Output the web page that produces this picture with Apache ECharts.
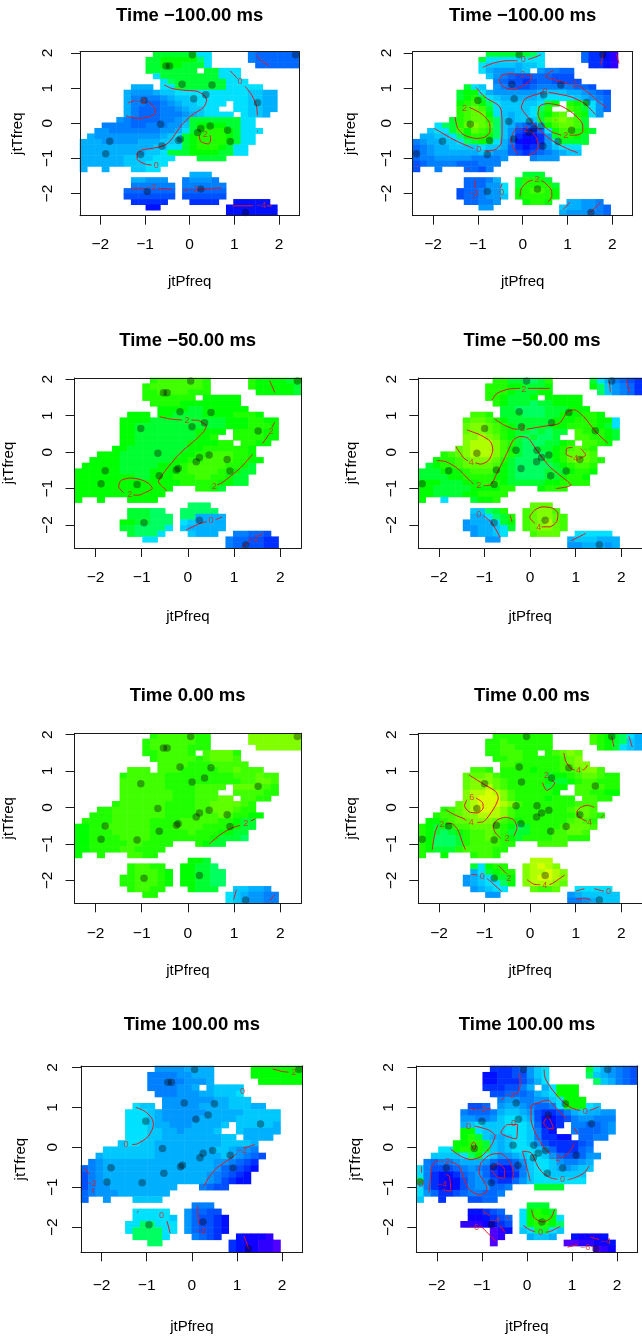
<!DOCTYPE html>
<html><head><meta charset="utf-8">
<style>html,body{margin:0;padding:0;background:#fff;overflow:hidden}#c{width:642px;height:1341px}</style>
<script src="https://cdn.jsdelivr.net/npm/echarts@6/dist/echarts.min.js"></script>
</head><body><div id="c"></div>
<script>
const titles=["Time −100.00 ms","Time −100.00 ms","Time −50.00 ms","Time −50.00 ms","Time 0.00 ms","Time 0.00 ms","Time 100.00 ms","Time 100.00 ms"];
const tickValues=[-2,-1,0,1,2];
const xRange=[-2.455,2.455];
const yRange=[-2.63,2.035];
const levelChars="abcdefghijklmnopqrstuv";
const levelValues=[-7,-6,-5,-4,-3.5,-3,-2.5,-2,-1.5,-1,-0.5,0,0.5,1,1.5,2,2.5,3,3.5,4,5,6];
const levelColors=["#5000ff","#3000ff","#1000ff","#0010ff","#0030ff","#0050ff","#0068ff","#0080ff","#0098ff","#00b0ff","#00c8ff","#00e0ff","#00f0e0","#00ff60","#00ff30","#00ff00","#20ff00","#40ff00","#60ff00","#80ff00","#b0ff00","#d8ff00"];
// cell spans per row (top row first): first and last column of each block
const spans=[[[10,17],[23,29]],[[9,17],[23,29]],[[9,17],[24,29]],[[9,15],[17,21]],[[10,21]],[[11,22]],[[7,9],[11,24]],[[6,26]],[[6,26]],[[6,19],[21,26]],[[6,18],[21,26]],[[6,20],[22,25]],[[5,23]],[[3,23]],[[2,24]],[[1,23]],[[0,23]],[[0,22]],[[0,22]],[[0,12],[16,19]],[[0,11]],[[0,0],[3,3],[7,10]],[[15,17]],[[7,11],[14,18]],[[7,12],[14,19]],[[6,12],[14,19]],[[6,12],[14,19]],[[7,11],[15,18],[21,25]],[[9,10],[20,26]],[[20,26]]];
// cell levels, one letter per cell, blocks split by a space
const cells1=["ooooooll hgggggg","oopppppnl hgggggg","oopppoool gggggg","ooooooo oolll","loooooooolll","lnooooooolll","jjj llooooooolllll","jiiijkkllllllllllkkjj","jhhhhijkkllllllllkkjj","jhhgghijkkllll llkkjj","jhggghhijkkll llkkjj","jhggghhhijkllll lkkj","ihgggghhijoooooooll","hhhhgghhhiikoppppooll","iihhhhhhhiijlopqqqpolll","jiiiiiiiiijklopqqqqpoll","jjjiiiiijjjkklopqqqqpoll","jjjjjjjjjjkkllopqqqpol","jjjjjjjjjkkloooppppool","jjjjjjkkkklll oooo","jjjjjjkkklll","j j kkll","jjj","jjiii hiiih","hhhhhh hhhhhh","ggggggg gggggg","fffffff ffffff","eeeee eeee ddddd","dd ddddddd","ddddddd"];
const cells2=["oooooonl geedb..","ollllllll geedb..","lkkkkjkkl eedb..","ljiiijk ihhgg","kihgffgggfff","hgffefggffff","olk ihgffghhhhhggf","oppljiiiiiijkkkjjihgf","opqolkjjjjjkllllkjihg","pqrpnlkkkkklop qpolig","qrsrolkkkklnq rqolig","qrssplkjkkloprs qpli","oqrssqnkjkkkorstsro","lnoqstsrnkjhgglprssro","kllorpsrqnkifeeglprrqpo","jjkklnpqqpnkieddeioqqpo","hijjkklnopoljhdcdeiloooo","ghijjkkkklkkjgedefiklll","ghijjjjjjkjiigfefghijkk","ghhiiiiihhhhi hiii","fghhhhggghhh","f h ggfh","ooo","ggghj oqqpo","gggiil oqqqqo","fgghiil pqrrqp","fgghiik pqqqqp","gghhi pqqp jjiih","ii kjjiihg","jiiihhg"];
const cells3=["qrrrrrrq qppppop","qrrrrrrrq qpppppo","qqrrrrqqq pppppo","qqqqqqq ppppp","qqqqpppppppp","ppppoopppppp","ppp ppooooppppqqqp","ppppoooooooooopppqqpp","ppoooooooooooopppqqqp","ppoooooooopppp qqqqpp","ppooooooooppq qqqqpp","ppoooooooppppqq qqpp","ppooooooooppqqqqqqp","pppooooooooppqqrrrqqp","ppppoooooooppqqrrrrqqpp","pppppooooopppqrrrrrqqpo","ppppppooooppppqrrrrqqpoo","ppppppppoopppqqqrrqqpoo","ppppppppppppppqqqqqppoo","ppppppppppppp qqpo","pppppppppppp","p p pppp","nnn","ooonn nnnnn","ooonnn nnjjjj","ppoonnn lkjjjj","oonnnnl kjjjjj","onnnl kjjj hhggf","ll hggffee","hggffee"];
const cells4=["qqoonnoq oljhgfe","qqqppooop pnkihge","qqqpooopp nkihge","qqpooop ppppp","qpooonooppp","oonnnnoooppp","rrq ooonnnoopppqqp","rssrqpoooooopppqqqppl","sttsrqpoooooppqqqqpol","sttsrqpoononoo rqqqpo","ttutsqpononno rrqqpo","tuuutrqonnnoopq rrqp","stuuutrponnoopqrsrq","qrstuuutrqonnnopqsssr","pqqrstttsqonnnnopqstsrq","opqqrssssrponnnnnopqrrq","ooopppqrrrqponnnnooopqqp","ooooppqqqqpponnnnoopqqp","pppoooppqqqpoooooppqqq","ppoooooppppqq pqqq","ppooooppqqqq","p l oppq","sss","kknoq rsttr","jjlnoq rsttsr","ijjjlop rstusr","iijjklo rsttsr","ijjkl rsss lllll","ii jkkkjjj","iijjjij"];
const cells5=["qrrrrrqq ttttttt","qrrrrrrqq ttttttt","qrrrrrqqq tttttt","qqrrrrq rsssq","qrrrrrqrsssr","rrrrqqqrrrrr","rrr rrrqqqqqrrsrrr","qrrrrrqqqqqqqqqrrrsrr","rrrrrrqqqqqqqqqqrrssr","rrrrrrqqqqrrrr sssrrq","rrrrrrrqqqrrr rrrrqq","rrrrrrrqqqrrrss rrqq","qrrrrrrqqqqrrssssrq","qqrrrrrrrqqqqrrsssrqq","qqqrrrrrrrqqqqrrrsrqqpp","qqqqrrrrrqqqqrrrrrqqpoo","ppqqrrrrrrqqqrrrrqqqqpoo","ppqqqrrrrrqqqqqrqqqppoo","ppqqqqrrrrqqqqqqqqpooon","ppqqqqqrrqqqq qpoo","ppqqqqrrqqqq","p q rrqq","ppo","qrrqq ppoon","qrrrqp ppoonn","qqrrrqp ppoonn","qqrrrqp ppoonn","qrrqq pooo kkjji","qq lkjiihh","lkjiihh"];
const cells6=["qqqqqqqq rqponlj","qqrqqqqqq rqponkj","qqrrqqqqq qpolkj","qqrrrqq qrsts","qqrrqqqqqrst","rrqqqqqqrstt","rrq qqqqpqqqrrsttr","ssstrqqqqqqoppqrssrqq","stttsrqqqqqpoopqrrqqq","sttusrqqqqqopp rrrrqq","tuuvutrqqqqqp rrqqpp","tuvvvtrqqqqpqqq rrqq","stuvvvutrqqqqqqqrrr","qrstuvvutrqqqqqqqrssr","qrrsttuuutrqqqqqqqqrsrq","ppqrsstttsrqpqqqqqqrsrq","qpopqrrsssrqpnoqqqqrsssr","qponopqrrsrqoooqqqrrssr","qpnnnoqrrsrqpoqqqqrrqqq","qpnnnoqrrrrqq rrrr","qpoooqrrrrqq","q p qrrq","uuu","olpqq tuvut","jlopqq tuuvut","ijkloop tuvvut","ijkllnp tuuuts","ijkll srrs lllll","ii ijkkkkk","hhijkkk"];
const cells7=["iiiijjjj ppppppp","hhhhiijjj ppppppp","hhhhhiiij pppppp","hhhhiij jkkkk","hhhiiijjkkkl","iiiiiiijjkkk","lkk iiiiijjjjkkkjj","lllkjiiiiiijjjjjkkkkk","lllkjiiiiijjjjjkkkkkk","lllkjjiiijjjjk kkkkkj","lllkkjjijjjjk kjjjjj","lllkkjjjjjjjjkk jjjj","kllkkjjjjjjjjjkkkkj","kkkkkkkjjjjjjjjkkjiih","jkkkkkkkjjjjjjjjjkjihgf","hijjjjjjjjjjjjjjjiihgfe","ghijjjjjjjjjjjjjjjiggfed","fhijjjjjjjjjjjjjjihgfed","fhijjjjjjjjjjjjjjihfedd","fhiijjjjjjjjj hgff","ghiiijjjjjjj","g i kkkk","hhh","lllll iggff","lllllk igffed","llnnlll igffed","lnnnnll igffed","nnnnl hgfe dcccb","nn edccbba","edccbba"];
const cells8=["eeefgikl oljihgf","ddeeffikl nkjihgf","ddeeefhjl nkjhgf","eeeffhj jlppp","ffggghjklppp","hiihhiiklppp","ffg ijjihgghlppplk","hggghjkkjifeefhjkjjii","iihhikllkjfddefhiihhh","jklkkklllkgdde hhgghi","pplkkklllkhed hggghi","pqokjjkllkheedd gghh","ppqqokjkllkifeeeefg","llpqqqokjklllkjgeeegh","kkkklnplkiijkllkigffgii","hghhijjjigffgikllkihhij","lhfffghihgeddfhkllkjijkk","lheddeghigeddehkllkkkkk","nhedcdfhihfeegiklllllll","lhedcdfhiiggh oooo","ligeefghhggh","k e ffgg","ooo","ddefg lpqpo","ccdefg lpqqpl","bbbcdef lpqqpn","....abd kloolk","...ab jkkj dcccd",".a aabbccd","....abc"];
// recording sites
const sitesX_left=[0.06,-0.53,-0.45,-0.17,0.5,0.09,0.36,-1.02,1.52,-0.65,0.25,0.46,0.18,0.85,0.91,-0.25,-0.21,-0.62,-1.79,-1.88,-1.1,-0.95,0.25,1.25,2.37];
const sitesY_left=[1.95,1.63,1.63,1.11,1.09,0.7,0.81,0.65,0.58,-0.03,-0.15,-0.08,-0.26,-0.2,-0.52,-0.49,-0.45,-0.65,-0.51,-0.87,-0.89,-1.94,-1.87,-2.54,1.95];
const sitesX_right=[-0.08,-0.24,0.85,-0.19,0.47,-1,1.43,-1.17,-0.31,0.15,0.25,0.41,0.14,1.09,0.79,-0.74,-0.2,0.45,-1.79,-2.37,-0.79,-0.79,0.33,1.52,1.79];
const sitesY_right=[1.95,1.11,1.09,0.7,0.81,0.65,0.59,-0.03,0.05,0.05,-0.15,-0.08,-0.26,-0.2,-0.52,-0.49,-0.45,-0.65,-0.51,-0.87,-0.89,-1.94,-1.87,-2.54,1.95];
// contour lines: x,y,x,y...
const lines1=[[-.57,1.09,-.4,.99,-.14,.94,.16,.91,.32,.8,.38,.66,.31,.45,.05,.23,-.18,-.05,-.36,-.38,-.51,-.59,-.73,-.69,-1.07,-.76,-1.18,-.87,-1.17,-1.03,-1,-1.16,-.85,-1.19],[-1.38,.58,-1.22,.65],[-.92,.61,-.79,.45,-.76,.31,-.85,.21,-1.11,.14,-1.29,.16,-1.42,.21],[.91,1.49,1.07,1.27],[1.24,1.05,1.39,.8,1.49,.52,1.52,.21],[1.52,-.21,1.52,-.25],[.21,-.34,.25,-.52,.42,-.59,.47,-.48,.46,-.34],[1.48,1.95,1.61,1.77,1.77,1.65],[-1.31,-1.85,-1,-1.85],[-.72,-1.85,-.4,-1.87],[-.14,-1.9,-.03,-1.9],[.2,-1.87,.72,-1.84],[.96,-2.35,1.43,-2.35],[1.72,-2.35,1.84,-2.35]];
const labels1=[[-.75,-1.2,"0"],[-1.09,.63,"−2"],[1.13,1.18,"0"],[.35,-.32,"2"],[-.86,-1.83,"−2"],[.09,-1.88,"−2"],[1.6,-2.35,"−4"]];
const lines2=[[-.89,1.59,-.63,1.72,-.33,1.78,-.11,1.78],[.12,1.82,.19,1.84,.41,1.95],[-.14,1.38,-.26,1.41,-.45,1.37,-.52,1.24,-.5,1.13,-.41,1.02,-.22,.96,-.03,1.04,.15,1.2,.21,1.35,.08,1.36],[.69,1.51,.5,1.34,.71,1.24,1.01,1.13],[1.2,1.08,1.27,1.05,1.53,.8,1.72,.58,1.88,.45],[1.62,.25,1.38,.56,1.08,.75,.71,.85,.58,.88],[.42,.87,.34,.83,.06,.7,-.03,.45,.08,.23,.34,-.15,.64,-.48,.97,-.71,1.23,-.84],[.34,.23,.38,.49,.56,.56,.86,.49,1.12,.28,1.34,-.05,1.34,-.24,1.19,-.34,1.05,-.34],[.86,-.34,.64,-.24,.45,-.05,.34,.23],[.72,.09,.74,.09],[-1.19,.45,-.93,.28,-.74,0,-.73,-.24,-.85,-.4,-1.04,-.43,-1.3,-.34,-1.45,-.15,-1.51,.18],[-1.04,1.02,-.85,.75,-.55,.52,-.48,.37,-.46,-.1,-.48,-.57,-.63,-.76,-.85,-.78],[-1.1,-.72,-1.19,-.67,-1.52,-.48,-1.97,-.15],[-.26,-.52,-.22,-.29,-.11,-.1],[.15,-.19,.3,-.4,.35,-.67,.26,-.84,.12,-.9],[-.26,-.52,-.18,-.76,-.11,-.87],[-1.06,-1.61,-1.06,-1.85],[-1.09,-2.1,-1.09,-2.16],[-.46,-1.73,-.5,-1.85],[-.5,-2.1,-.5,-2.18],[-.06,-2.08,-.03,-1.85,.12,-1.66,.22,-1.62],[.42,-1.63,.49,-1.69,.64,-1.9,.65,-2.08,.56,-2.25],[.9,-2.46,1.06,-2.24],[1.49,-2.56,1.74,-2.25],[1.75,1.65,1.79,1.98],[2.15,1.7,2.09,1.98],[-2.37,-1.19,-2.34,-1.23],[-1.24,-1.28,-1.2,-1.31]];
const labels2=[[.01,1.8,"0"],[-.06,1.38,"−2"],[1.1,1.11,"−2"],[.5,.89,"0"],[.96,-.34,"2"],[-1.3,.43,"2"],[-.98,-.76,"0"],[.02,-.17,"−2"],[-1.09,-1.99,"−2"],[-.47,-1.97,"0"],[.32,-1.61,"2"]];
const lines3=[[-.61,.97,-.38,.91,-.13,.88],[.08,.88,.23,.87,.34,.79,.4,.73,.34,.56,.12,.29,-.17,-.03,-.42,-.4,-.53,-.58,-.64,-.81,-.55,-.95,-.45,-1.07],[-1.18,-1.18,-1.07,-1.18,-.96,-1.13,-.77,-.99,-.85,-.86,-1.03,-.75,-1.25,-.71,-1.45,-.78,-1.5,-.95,-1.39,-1.11],[1.4,-.06,1.13,-.44,.74,-.84,.63,-.9],[1.77,1.96,1.88,1.64],[1.88,.82,1.82,.68],[1.76,.5,1.62,.24],[-.04,-2.14,.27,-1.95,.41,-1.91],[.6,-1.85,.74,-1.78],[1.17,-2.61,1.35,-2.43],[1.5,-2.32,1.62,-2.23]];
const labels3=[[-.02,.88,"2"],[-1.26,-1.15,"2"],[.57,-.95,"2"],[1.8,.58,"2"],[.5,-1.87,"0"],[1.42,-2.38,"−2"]];
const lines4=[[-.84,1.43,-.73,1.61,-.48,1.73,-.22,1.75],[-.05,1.75,.06,1.75,.43,1.75],[-.78,.91,-.58,.75,-.37,.64,-.26,.63],[-.08,.63,.35,.72,.64,.79,.82,1.11,.97,1.16,1.18,.97,1.44,.56,1.71,.24],[-1.39,.61,-1.09,.47,-.87,.29,-.82,.06,-.91,-.22,-1.09,-.33,-1.2,-.29],[-1.36,-.24,-1.45,-.17,-1.63,.15],[-2.05,-.23,-1.85,-.26,-1.6,-.44,-1.34,-.76,-1.24,-.88],[-1.02,-.92,-.87,-.9,-.73,-.58,-.51,-.03,-.37,.33,-.22,.43,-.04,.38,.14,.06,.43,-.4,.79,-.77,.9,-.9,.82,-.95,.57,-1],[.93,.13,.8,.1,.79,-.05,.93,-.14],[1.08,-.17,1.22,-.08,1.11,.1],[1.74,1.94,1.76,1.64],[2.12,1.98,2.17,1.64],[-1.02,-1.75,-.84,-1.94,-.66,-2.34],[-.44,-1.73,-.4,-1.91],[.25,-2.05,.43,-2.05,.58,-1.91,.61,-1.68,.5,-1.54,.28,-1.5,.1,-1.59,-.01,-1.79,.1,-1.95],[.9,-2.43,1.22,-2.23]];
const labels4=[[-.14,1.73,"2"],[-.17,.64,"2"],[-1.29,-.28,"4"],[-1.13,-.92,"2"],[1,-.17,"4"],[-1.13,-1.71,"0"],[.19,-2.07,"4"]];
const lines5=[[.46,-1,.7,-.75,.92,-.58,1.13,-.49],[1.36,-.37,1.46,-.31],[1.05,-2.26,.99,-2.53],[1.88,-2.39,1.78,-2.55]];
const labels5=[[1.25,-.43,"2"]];
const lines6=[[-1.19,.26,-1.05,.14,-1.03,-.01,-1.16,-.15,-1.34,-.12,-1.44,.05,-1.39,.21],[-1.35,.9,-1.01,.63,-.76,.44,-.7,.26,-.79,-.01,-1.01,-.38,-1.16,-.41],[-1.4,-.37,-1.44,-.32,-1.66,-.2,-1.86,-.06],[-2.15,-1.16,-2.09,-.7,-2.02,-.47],[-1.85,-.45,-1.73,-.44,-1.59,-.61,-1.48,-.98,-1.42,-1.16],[-.65,-.84,-.76,-.7,-.81,-.52,-.72,-.34,-.54,-.27,-.36,-.34,-.29,-.56,-.36,-.79],[.27,.68,.36,.47,.47,.54,.54,.68,.48,.73],[.74,1.5,.78,1.27,.9,1.06,.98,1.03],[1.15,1.03,1.19,1.04,1.26,1.16],[1.05,-.24,1.03,-.11,1.12,.01,1.26,.06,1.41,0],[1.05,-.24,1.16,-.33,1.24,-.38],[1.62,-.2,1.55,-.29],[-.69,-1.6,-.52,-1.82],[-1.29,-1.84,-1.16,-1.85],[-.95,-1.95,-.87,-2.03,-.63,-2.3],[-.07,-1.98,.07,-2.1,.22,-2.12],[.42,-2.12,.51,-2.07,.76,-1.85],[1.79,1.95,1.84,1.66],[2.17,1.95,2.24,1.66],[1.01,-2.29,1.19,-2.23],[1.41,-2.23,1.62,-2.3],[1.01,-2.53,1.19,-2.49,1.34,-2.55]];
const labels6=[[-1.28,.26,"6"],[-1.29,-.41,"4"],[-1.94,-.47,"2"],[-.51,-.86,"2"],[.36,.87,"2"],[1.06,1.01,"4"],[1.3,-.41,"4"],[-.47,-1.95,"2"],[-1.05,-1.9,"0"],[.32,-2.13,"4"],[1.72,-2.32,"0"]];
const lines7=[[-1.24,1,-1.04,.9,-.89,.73,-.85,.57,-.96,.28,-1.22,.08,-1.32,.07],[1.4,.07,1.15,-.02],[.99,-.16,.92,-.23,.55,-.52,.37,-.77,.26,-.98],[1.79,1.96,2,1.9,2.14,1.88],[-2.37,-.52,-2.27,-.68],[-2.19,-1.03,-2.18,-1.14],[-.55,-1.85,-.48,-2.15],[-1.22,-1.63,-1.18,-1.6],[.13,-1.46,.14,-1.81,.16,-1.94],[1.16,-2.23,1.26,-2.55]];
const labels7=[[-1.46,.08,"0"],[1.11,-.08,"−2"],[2.26,1.88,"2"],[1.12,1.39,"0"],[-2.22,-.92,"−2"],[-.67,-1.71,"0"],[.2,-2.1,"−2"]];
const lines8=[[-.16,1.86,-.15,1.57,-.21,1.36,-.28,1.33],[-.5,1.24,-.58,1.18],[.38,1.95,.4,1.74,.53,1.49,.75,1.19,.98,.99,1.18,.92],[1.4,.93,1.6,1.01],[-1.28,.99,-1.13,.93],[-.9,.95,-.8,.97],[.87,.71,.61,1.03,.46,1.18,.24,1.11,.09,1.03,.09,.69,.2,.32,.38,-.02,.53,-.18],[.74,-.27,.83,-.23,.98,-.06,1.05,.11],[1.05,.48,1.12,.34],[.46,.78,.37,.61,.46,.48,.59,.46,.53,.65,.46,.78],[-.21,.57,-.43,.57,-.58,.36,-.24,.21,-.21,.57],[-1.16,.53,-.87,.44,-.71,.29,-.8,.03,-1.02,-.23,-1.24,-.31,-1.46,-.23,-1.7,-.04],[-1.24,.07,-1.18,-.06,-1.13,.03,-1.18,.13,-1.24,.07],[-2.17,-1.14,-2.11,-.48,-2.02,-.35,-1.95,-.35],[-1.7,-.36,-1.65,-.38,-1.5,-.48,-1.39,-.81,-1.28,-1.06,-1.06,-1.19,-.89,-1.1,-.91,-.94,-1.06,-.64,-1.02,-.39,-.8,-.18,-.58,-.16,-.39,-.35,-.3,-.64,-.33,-.81],[-.8,-.52,-.65,-.41,-.5,-.56,-.5,-.77,-.65,-.75,-.8,-.56],[-1.8,-.68,-1.72,-.73,-1.69,-1.1,-1.87,-1.06],[-.1,-.1,.01,-.56,.07,-.85],[-.1,-.1,.09,-.14,.24,-.48,.35,-.64,.53,-.77,.68,-.8],[.9,-.81,1.05,-.77,1.27,-.64,1.38,-.46],[-2.34,-.48,-2.34,-.64],[-.98,-1.6,-.82,-1.72],[-.61,-1.94,-.49,-2.13],[-.44,-1.73,-.41,-1.81],[-1.08,-2,-1.02,-2,-.87,-2.15,-.7,-2.35],[.1,-1.56,.16,-1.77,.35,-1.87,.53,-1.77,.61,-1.56],[-.08,-1.96,.05,-2.06,.18,-2.12],[.42,-2.13,.53,-2.1,.74,-1.98],[1.4,-2.25,1.6,-2.31],[.9,-2.5,1.12,-2.44],[1.42,-2.49,1.46,-2.48]];
const labels8=[[-.38,1.29,"−2"],[1.29,.9,"0"],[-1.02,.94,"−2"],[.63,-.27,"−2"],[-.3,.6,"0"],[-1.3,.53,"0"],[-1.82,-.35,"−2"],[-1.88,-.93,"−4"],[.79,-.81,"0"],[-2.35,-.93,"0"],[-.72,-1.83,"−4"],[-1.18,-2,"−6"],[.3,-2.13,"0"],[1.75,-2.36,"−4"],[1.29,-2.5,"−6"]];

const cellSets=[cells1,cells2,cells3,cells4,cells5,cells6,cells7,cells8];
const lineSets=[lines1,lines2,lines3,lines4,lines5,lines6,lines7,lines8];
const labelSets=[labels1,labels2,labels3,labels4,labels5,labels6,labels7,labels8];
// panel boxes on the page: left, top, width, height, tick-label margin x/y, name gap x/y, title centre y
const panels=[[80,51.7,219.3,164,21,24,66,62,15],[412.7,51.7,220,164,21,18,66,62,15],[74,378,227.3,170,22,19,69,66,340],[418.3,378,227.3,170,22,19,69,66,340],[74,733.3,227.3,170,22,19,68,66,695],[418.3,733.3,227.3,170,22,19,68,66,695],[81,1066,221.7,186.3,25,20,75,60,1024],[416.3,1066,221.4,186.3,25,20,75,60,1024]];

function decode(rows){
  const out=[];
  rows.forEach((row,r)=>{
    const parts=row.split(" ");
    spans[r].forEach((sp,i)=>{
      const s=parts[i]||parts[parts.length-1];
      for(let c=sp[0];c<=sp[1];c++){
        const ch=s[Math.min(c-sp[0],s.length-1)];
        if(ch==='.')continue;
        out.push([c,29-r,levelValues[levelChars.indexOf(ch)]]);
      }
    });
  });
  return out;
}
function pairs(set){
  const out=[];
  set.forEach(l=>{
    for(let i=0;i<l.length;i+=2)out.push([l[i],l[i+1]]);
    out.push(['-','-']);
  });
  return out;
}
const cats=Array.from({length:30},(_,i)=>String(i));
const fam='"Liberation Sans",Helvetica,Arial,sans-serif';
const fmt=v=>String(v).replace('-','−');
const option={animation:false,backgroundColor:'#fff',title:[],grid:[],xAxis:[],yAxis:[],series:[],
 visualMap:{type:'piecewise',show:false,seriesIndex:[],dimension:2,
   pieces:levelValues.map((v,i)=>({value:v,color:levelColors[i]}))}};
panels.forEach((p,g)=>{
  const [left,top,width,height,mx,my,nx,ny,ty]=p;
  option.title.push({text:titles[g],left:left+width/2,top:ty-8.5,padding:0,textAlign:'center',
    textStyle:{fontFamily:fam,fontSize:18.5,fontWeight:'bold',color:'#000'}});
  option.grid.push({left,top,width,height,containLabel:false});
  const ln={show:true,onZero:false,lineStyle:{color:'#1a1a1a',width:1}};
  option.xAxis.push({type:'value',gridIndex:g,min:xRange[0],max:xRange[1],position:'bottom',z:5,
    axisLine:ln,splitLine:{show:false},name:'jtPfreq',nameLocation:'middle',nameGap:nx,
    nameTextStyle:{fontFamily:fam,fontSize:15,color:'#000',verticalAlign:'middle'},
    axisTick:{show:true,length:9,customValues:tickValues,lineStyle:{color:'#1a1a1a'}},
    axisLabel:{show:true,customValues:tickValues,margin:mx,formatter:fmt,fontFamily:fam,fontSize:15.5,color:'#000'}});
  option.xAxis.push({type:'category',gridIndex:g,data:cats,position:'top',boundaryGap:true,z:5,
    axisLine:ln,axisTick:{show:false},axisLabel:{show:false},splitLine:{show:false}});
  option.yAxis.push({type:'value',gridIndex:g,min:yRange[0],max:yRange[1],position:'left',z:5,
    axisLine:ln,splitLine:{show:false},name:'jtTfreq',nameLocation:'middle',nameGap:ny,nameRotate:90,
    nameTextStyle:{fontFamily:fam,fontSize:15,color:'#000',verticalAlign:'middle'},
    axisTick:{show:true,length:9,customValues:tickValues,lineStyle:{color:'#1a1a1a'}},
    axisLabel:{show:true,customValues:tickValues,margin:my,rotate:90,formatter:fmt,fontFamily:fam,fontSize:15.5,color:'#000'}});
  option.yAxis.push({type:'category',gridIndex:g,data:cats,position:'right',boundaryGap:true,z:5,
    axisLine:ln,axisTick:{show:false},axisLabel:{show:false},splitLine:{show:false}});
  option.visualMap.seriesIndex.push(option.series.length);
  option.series.push({type:'heatmap',xAxisIndex:2*g+1,yAxisIndex:2*g+1,data:decode(cellSets[g]),z:1,silent:true,itemStyle:{borderWidth:0},progressive:0});
  option.series.push({type:'line',xAxisIndex:2*g,yAxisIndex:2*g,data:pairs(lineSets[g]),z:3,silent:true,
    smooth:0.25,showSymbol:false,symbol:'none',connectNulls:false,lineStyle:{color:'#e8141e',width:1}});
  const sx=g%2?sitesX_right:sitesX_left, sy=g%2?sitesY_right:sitesY_left;
  option.series.push({type:'scatter',xAxisIndex:2*g,yAxisIndex:2*g,data:sx.map((x,i)=>[x,sy[i]]),z:4,silent:true,
    symbolSize:7.5,itemStyle:{color:'rgba(0,0,0,0.45)',borderWidth:0}});
  option.series.push({type:'scatter',xAxisIndex:2*g,yAxisIndex:2*g,data:labelSets[g],z:4,silent:true,
    symbolSize:1,itemStyle:{color:'transparent'},
    label:{show:true,position:'inside',formatter:q=>q.value[2],fontFamily:fam,fontSize:9,color:'#e02020'}});
});
const chart=echarts.init(document.getElementById('c'),null,{renderer:'canvas',width:642,height:1341});
chart.setOption(option);
</script></body></html>
